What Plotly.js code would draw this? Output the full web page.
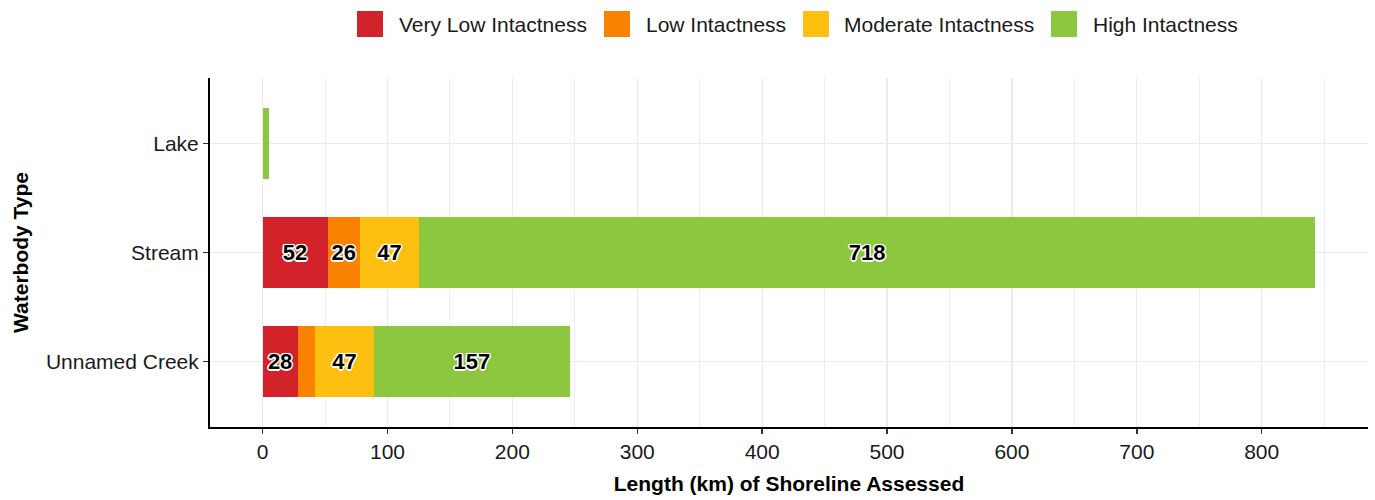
<!DOCTYPE html>
<html>
<head>
<meta charset="utf-8">
<script src="https://cdn.plot.ly/plotly-3.0.1.min.js"></script>
<style>html,body{margin:0;padding:0;background:#fff;}#chart{width:1375px;height:500px;}</style>
</head>
<body>
<div id="chart"></div>
<script>
const categories = ['Lake', 'Stream', 'Unnamed Creek'];
const seriesNames = ['Very Low Intactness', 'Low Intactness', 'Moderate Intactness', 'High Intactness'];
const veryLow = [0.3, 52, 28];
const low = [0, 26, 14];
const moderate = [0, 47, 47];
const high = [4.5, 718, 157];
const xTicks = [0, 100, 200, 300, 400, 500, 600, 700, 800];

const colors = ['#D2232A', '#F98300', '#FEC010', '#8DC63F'];
const allSeries = [veryLow, low, moderate, high];
const LABEL_MIN = 20;

const FONT = 'Liberation Sans, Arial, sans-serif';
const shadow = '-1px -1px 0 #fff, 1px -1px 0 #fff, -1px 1px 0 #fff, 1px 1px 0 #fff, 0 1.5px 0 #fff, 1.5px 0 0 #fff, 0 -1.5px 0 #fff, -1.5px 0 0 #fff, 0 0 2px #fff';

const traces = allSeries.map((vals, i) => ({
  type: 'bar',
  orientation: 'h',
  name: seriesNames[i],
  y: categories,
  x: vals,
  marker: {color: colors[i], line: {width: 0}},
  text: vals.map(v => v >= LABEL_MIN ? String(v) : ''),
  textposition: 'inside',
  insidetextanchor: 'middle',
  textangle: 0,
  constraintext: 'none',
  textfont: {family: FONT, size: 22, color: '#000', weight: 'bold', shadow: shadow},
  showlegend: false,
  hoverinfo: 'x+y+name'
}));

// plot area in pixels
const L = 210, R = 7, T = 78, B = 73, W = 1375, H = 500;
const pw = W - L - R, ph = H - T - B;
const px = x => (x - L) / pw;
const py = y => (H - B - y) / ph;

// custom legend (large square keys)
const legendSquareX = [357, 604, 803, 1051];
const legendTextX = [398, 645, 843, 1092];
const shapes = [];
const annotations = [];
seriesNames.forEach((n, i) => {
  shapes.push({type: 'rect', xref: 'paper', yref: 'paper',
    x0: px(legendSquareX[i]), x1: px(legendSquareX[i] + 26),
    y0: py(37), y1: py(11), fillcolor: colors[i], line: {width: 0}});
  annotations.push({xref: 'paper', yref: 'paper', x: px(legendTextX[i] - 1), y: py(24.5),
    xanchor: 'left', yanchor: 'middle', text: n, showarrow: false,
    font: {family: FONT, size: 21, color: '#1a1a1a'}});
});

const layout = {
  width: W, height: H,
  margin: {l: L, r: R, t: T, b: B, pad: 0},
  paper_bgcolor: '#fff', plot_bgcolor: '#fff',
  barmode: 'stack',
  bargap: 0.35,
  showlegend: false,
  font: {family: FONT, size: 21, color: '#1a1a1a'},
  xaxis: {
    range: [-42.15, 885.15],
    tickvals: xTicks,
    ticktext: xTicks.map(String),
    showgrid: true, gridcolor: '#EBEBEB', gridwidth: 1.2,
    minor: {dtick: 50, tick0: 0, showgrid: true, gridcolor: '#EDEDED', gridwidth: 1, ticks: ''},
    zeroline: false,
    showline: true, linecolor: '#000', linewidth: 2,
    ticks: 'outside', ticklen: 5, tickwidth: 1.5, tickcolor: '#333',
    tickfont: {family: FONT, size: 21, color: '#1a1a1a'},
    title: {text: 'Length (km) of Shoreline Assessed', standoff: 14,
      font: {family: FONT, size: 21, color: '#000', weight: 'bold'}},
    fixedrange: true
  },
  yaxis: {
    type: 'category',
    categoryorder: 'array',
    categoryarray: categories.slice().reverse(),
    range: [-0.6, 2.6],
    showgrid: true, gridcolor: '#EBEBEB', gridwidth: 1.2,
    zeroline: false,
    showline: true, linecolor: '#000', linewidth: 2,
    ticks: 'outside', ticklen: 5, tickwidth: 1.5, tickcolor: '#333',
    tickfont: {family: FONT, size: 21, color: '#1a1a1a'},
    title: {text: 'Waterbody Type', standoff: 12,
      font: {family: FONT, size: 21, color: '#000', weight: 'bold'}},
    fixedrange: true
  },
  shapes: shapes,
  annotations: annotations
};

Plotly.newPlot('chart', traces, layout, {displayModeBar: false, staticPlot: true});
</script>
</body>
</html>
